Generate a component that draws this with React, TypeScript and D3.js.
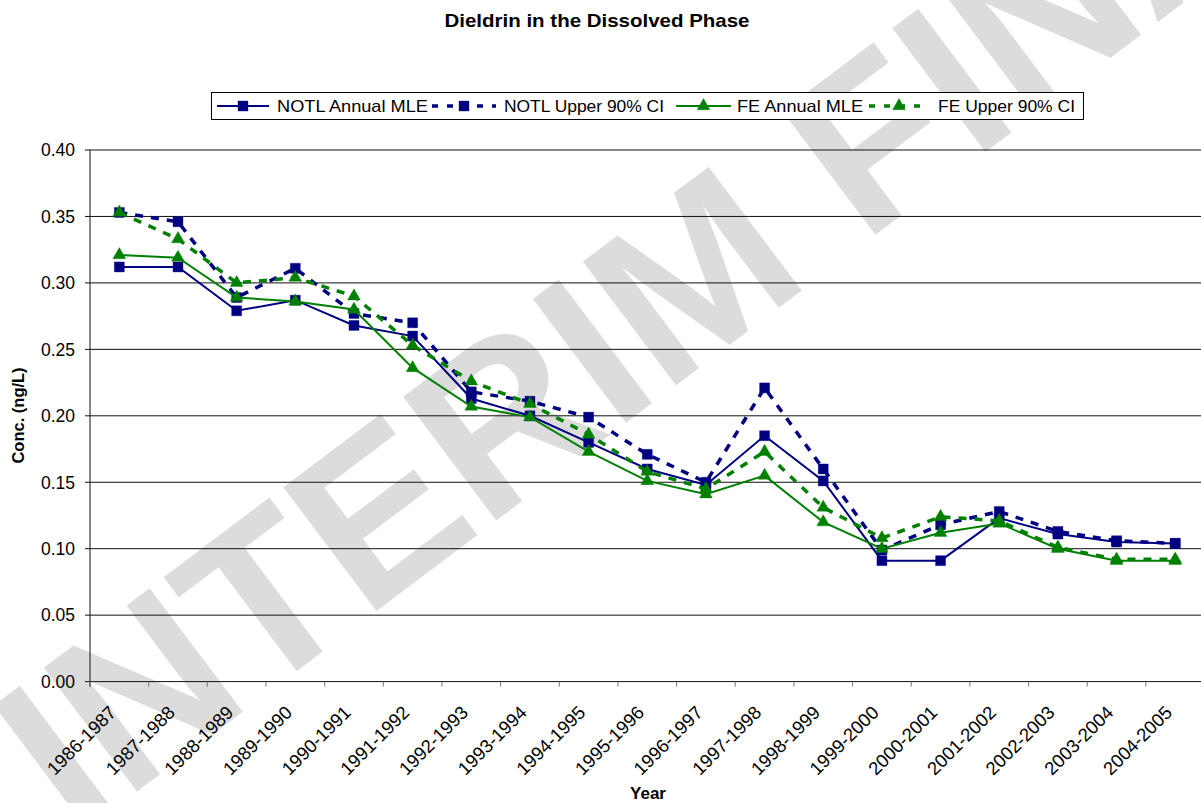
import React from 'react';
import * as d3 from 'd3';

// Dieldrin in the dissolved phase, ng/L
const categories = [
  '1986-1987', '1987-1988', '1988-1989', '1989-1990', '1990-1991', '1991-1992',
  '1992-1993', '1993-1994', '1994-1995', '1995-1996', '1996-1997', '1997-1998',
  '1998-1999', '1999-2000', '2000-2001', '2001-2002', '2002-2003', '2003-2004', '2004-2005',
];
const notlMle = [0.312, 0.312, 0.279, 0.287, 0.268, 0.260, 0.213, 0.200, 0.180, 0.160, 0.148, 0.185, 0.151, 0.091, 0.091, 0.123, 0.111, 0.105, 0.104];
const notlUpper = [0.353, 0.346, 0.289, 0.311, 0.277, 0.270, 0.218, 0.211, 0.199, 0.171, 0.150, 0.221, 0.160, 0.099, 0.118, 0.128, 0.113, 0.106, 0.104];
const feMle = [0.321, 0.319, 0.289, 0.286, 0.280, 0.236, 0.207, 0.199, 0.173, 0.151, 0.141, 0.155, 0.120, 0.100, 0.112, 0.119, 0.100, 0.091, 0.091];
const feUpper = [0.353, 0.333, 0.300, 0.304, 0.290, 0.253, 0.226, 0.209, 0.186, 0.158, 0.145, 0.173, 0.131, 0.108, 0.124, 0.121, 0.101, 0.092, 0.092];
const yTicks = [0, 0.05, 0.1, 0.15, 0.2, 0.25, 0.3, 0.35, 0.4];

const seriesNames = ['NOTL Annual MLE', 'NOTL Upper 90% CI', 'FE Annual MLE', 'FE Upper 90% CI'];

const NAVY = '#000080';
const GREEN = '#008000';
const FONT = "'Liberation Sans', Arial, sans-serif";

const W = 1201;
const H = 803;
const left = 90;
const top = 150;
const bottom = 681.6;
const band = 58.66;

const series = [
  { name: seriesNames[0], values: notlMle, color: NAVY, dashed: false, shape: 'square' },
  { name: seriesNames[1], values: notlUpper, color: NAVY, dashed: true, shape: 'square' },
  { name: seriesNames[2], values: feMle, color: GREEN, dashed: false, shape: 'triangle' },
  { name: seriesNames[3], values: feUpper, color: GREEN, dashed: true, shape: 'triangle' },
];

// legend layout: line start/end, text x, text width
const legendLayout = [
  { x0: 217, x1: 269, tx: 277, tw: 151 },
  { x0: 432, x1: 496, tx: 504, tw: 160 },
  { x0: 676, x1: 731, tx: 737, tw: 126 },
  { x0: 869, x1: 929, tx: 938, tw: 137 },
];

const squarePath = d3.symbol().type(d3.symbolSquare).size(100)();
const trianglePath = d3.symbol().type(d3.symbolTriangle).size(72)();

const Marker = ({ x, y, shape, color }) => (
  <path
    d={shape === 'square' ? squarePath : trianglePath}
    transform={`translate(${x},${y})`}
    fill={color}
    stroke={color}
    strokeOpacity={0.35}
    strokeWidth={1}
  />
);

export default function App() {
  const x = d3.scaleBand().domain(categories).range([left, left + band * categories.length]);
  const y = d3.scaleLinear().domain([0, 0.4]).range([bottom, top]);
  const cx = (c) => x(c) + x.bandwidth() / 2;

  const line = d3.line<number>()
    .x((_, i) => cx(categories[i]))
    .y((d) => y(d));

  const boundaries = categories.map((c) => x(c)).concat([left + band * categories.length]);

  return (
    <svg width={W} height={H} style={{ position: 'absolute', left: 0, top: 0, background: '#fff' }} fontFamily={FONT}>
      <rect width={W} height={H} fill="#fff" />

      {/* watermark */}
      <text
        transform="translate(75,838) rotate(-37)"
        fontSize={225}
        fontWeight="bold"
        fill="#dcdcdc"
        fontFamily={FONT}
      >
        INTERIM FINAL
      </text>

      <text x={597} y={26.5} textAnchor="middle" fontSize={19} fontWeight="bold" textLength={305} lengthAdjust="spacingAndGlyphs">
        Dieldrin in the Dissolved Phase
      </text>

      {/* gridlines + y axis */}
      {yTicks.map((t) => (
        <g key={t}>
          <line x1={left} x2={W} y1={y(t)} y2={y(t)} stroke="#111" strokeWidth={1} />
          <line x1={left - 5} x2={left} y1={y(t)} y2={y(t)} stroke="#111" strokeWidth={1} />
          <text x={75} y={y(t)} dy="0.36em" textAnchor="end" fontSize={17.5}>
            {t.toFixed(2)}
          </text>
        </g>
      ))}
      <line x1={left} x2={left} y1={top} y2={bottom + 5} stroke="#111" strokeWidth={1} />

      {/* x axis ticks + labels */}
      {boundaries.map((b, i) => (
        <line key={i} x1={b} x2={b} y1={bottom} y2={bottom + 5} stroke="#777" strokeWidth={1} />
      ))}
      {categories.map((c) => (
        <text
          key={c}
          transform={`translate(${cx(c) - 2},${bottom + 32}) rotate(-45)`}
          textAnchor="end"
          fontSize={18.5}
        >
          {c}
        </text>
      ))}

      <text transform="translate(24,415.5) rotate(-90)" textAnchor="middle" fontSize={16.5} fontWeight="bold">
        Conc. (ng/L)
      </text>
      <text x={648} y={799} textAnchor="middle" fontSize={17} fontWeight="bold">
        Year
      </text>

      {/* series */}
      {series.map((s) => (
        <g key={s.name}>
          <path
            d={line(s.values)}
            fill="none"
            stroke={s.color}
            strokeWidth={s.dashed ? 3.5 : 2}
            strokeDasharray={s.dashed ? '8,8' : undefined}
          />
          {s.values.map((v, i) => (
            <Marker key={i} x={cx(categories[i])} y={y(v)} shape={s.shape} color={s.color} />
          ))}
        </g>
      ))}

      {/* legend */}
      <rect x={211.5} y={92.5} width={872} height={27} fill="#fff" stroke="#000" strokeWidth={1} />
      {series.map((s, i) => {
        const l = legendLayout[i];
        const ly = 106;
        return (
          <g key={s.name}>
            <line
              x1={l.x0}
              x2={l.x1}
              y1={ly}
              y2={ly}
              stroke={s.color}
              strokeWidth={s.dashed ? 3.5 : 2}
              strokeDasharray={s.dashed ? '6,9' : undefined}
            />
            <Marker x={(l.x0 + l.x1) / 2} y={ly} shape={s.shape} color={s.color} />
            <text x={l.tx} y={ly} dy="0.36em" fontSize={16.5} textLength={l.tw} lengthAdjust="spacingAndGlyphs">
              {s.name}
            </text>
          </g>
        );
      })}
    </svg>
  );
}
